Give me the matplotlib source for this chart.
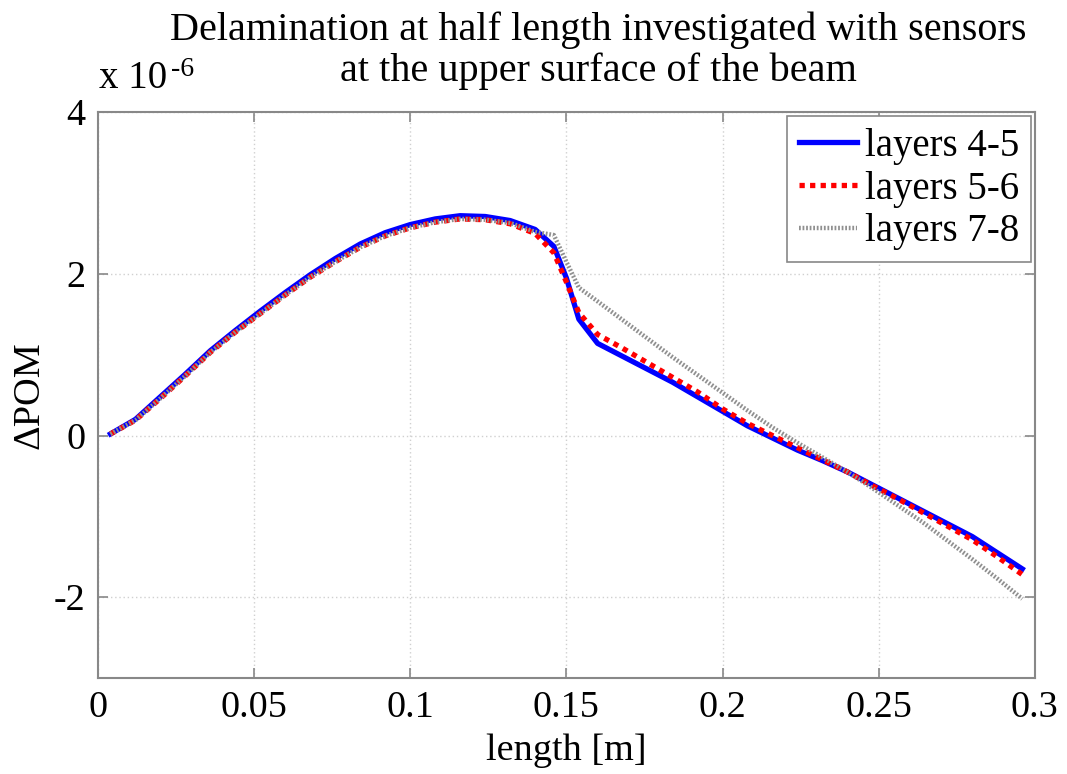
import matplotlib.pyplot as plt
import numpy as np

plt.rcParams['font.family'] = ['Liberation Serif', 'DejaVu Serif']

# sensor positions along the beam [m]
length = [0.004, 0.012, 0.020, 0.028, 0.036, 0.044, 0.052, 0.060, 0.068, 0.076,
          0.084, 0.092, 0.100, 0.108, 0.116, 0.124, 0.132, 0.140, 0.146, 0.150,
          0.154, 0.160, 0.168, 0.176, 0.184, 0.192, 0.200, 0.208, 0.216, 0.224,
          0.232, 0.240, 0.248, 0.256, 0.264, 0.272, 0.280, 0.288, 0.296]

# delta POM, in units of 1e-6
pom_45 = [0.02, 0.20, 0.48, 0.76, 1.05, 1.30, 1.54, 1.77, 1.99, 2.19,
          2.37, 2.51, 2.61, 2.68, 2.72, 2.71, 2.66, 2.55, 2.34, 1.95,
          1.44, 1.14, 0.98, 0.82, 0.66, 0.48, 0.30, 0.12, -0.03, -0.18,
          -0.31, -0.45, -0.61, -0.77, -0.93, -1.09, -1.25, -1.45, -1.65]

pom_56 = [0.02, 0.19, 0.46, 0.74, 1.03, 1.28, 1.51, 1.74, 1.96, 2.15,
          2.33, 2.47, 2.57, 2.64, 2.68, 2.67, 2.62, 2.50, 2.26, 1.90,
          1.52, 1.25, 1.08, 0.90, 0.72, 0.54, 0.33, 0.15, 0.00, -0.15,
          -0.30, -0.45, -0.62, -0.78, -0.95, -1.12, -1.29, -1.50, -1.72]

pom_78 = [0.02, 0.19, 0.46, 0.74, 1.03, 1.28, 1.51, 1.74, 1.96, 2.15,
          2.33, 2.47, 2.57, 2.64, 2.68, 2.67, 2.63, 2.52, 2.48, 2.15,
          1.83, 1.66, 1.43, 1.20, 0.97, 0.75, 0.53, 0.31, 0.10, -0.09,
          -0.27, -0.45, -0.65, -0.86, -1.07, -1.30, -1.53, -1.77, -2.02]

xticks = [0, 0.05, 0.1, 0.15, 0.2, 0.25, 0.3]
xtick_labels = ['0', '0.05', '0.1', '0.15', '0.2', '0.25', '0.3']
yticks = [-2, 0, 2, 4]
ytick_labels = ['-2', '0', '2', '4']

fig = plt.figure(figsize=(10.67, 7.74), dpi=100)
ax = fig.add_axes([0.0918, 0.124, 0.878, 0.731])

ax.plot(length, pom_45, color='#0000ff', lw=3.8, label='layers 4-5')
ax.plot(length, pom_56, color='#ff0000', lw=3.8, linestyle=(0, (1, 1)), label='layers 5-6')
ax.plot(length, pom_78, color='#909090', lw=3.2, linestyle=(0, (0.4, 0.4)), label='layers 7-8')

ax.set_xlim(0, 0.3)
ax.set_ylim(-3, 4)
ax.set_xticks(xticks)
ax.set_xticklabels(xtick_labels)
ax.set_yticks(yticks)
ax.set_yticklabels(ytick_labels)
ax.tick_params(direction='in', length=7, width=1.2, color='#888888',
               top=True, right=True, labelsize=27.5, pad=9)
for s in ax.spines.values():
    s.set_color('#888888')
    s.set_linewidth(1.5)
ax.grid(True, linestyle=(0, (1, 2)), color='#d0d0d0', lw=1)

ax.set_xlabel('length [m]', fontsize=27.5, labelpad=6)
ax.set_ylabel('ΔPOM', fontsize=27.5, labelpad=5)

leg = ax.legend(loc='upper right', fontsize=28, fancybox=False, framealpha=1,
                edgecolor='#888888', borderaxespad=0.1, handlelength=1.5,
                handletextpad=0.2, labelspacing=0.15, borderpad=0.3)
leg.get_frame().set_linewidth(1.2)

fig.text(0.561, 0.985, 'Delamination at half length investigated with sensors\n'
         'at the upper surface of the beam', ha='center', va='top',
         fontsize=29, linespacing=1.12)
fig.text(0.093, 0.875, 'x 10', ha='left', va='bottom', fontsize=28)
fig.text(0.160, 0.926, '-6', ha='left', va='top', fontsize=20)

fig.savefig('out.png', dpi=100)
